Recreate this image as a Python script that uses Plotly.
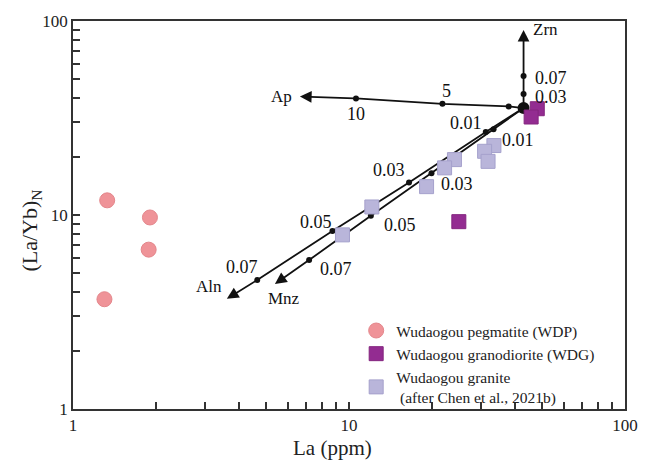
import numpy as np
import plotly.graph_objects as go

# ---- data ----
wdp_la = [1.33, 1.90, 1.88, 1.30]
wdp_ratio = [11.9, 9.71, 6.63, 3.68]

wdg_la = [48.1, 45.7, 25.0]
wdg_ratio = [35.3, 32.0, 9.24]

granite_la = [33.5, 31.0, 31.9, 24.1, 22.2, 19.1, 12.1, 9.47]
granite_ratio = [22.8, 21.3, 18.9, 19.3, 17.5, 14.0, 11.0, 7.90]

origin_la, origin_ratio = 42.9, 35.6

zrn_la = [42.9, 42.9]
zrn_ratio = [42.0, 52.0]
zrn_labels = ["0.03", "0.07"]
zrn_tip = (42.9, 90.0)

ap_la = [37.9, 21.8, 10.6]
ap_ratio = [36.3, 37.4, 39.9]
ap_labels = ["", "5", "10"]
ap_tip = (6.64, 40.8)

aln_la = [31.3, 16.5, 8.71, 4.65]
aln_ratio = [26.8, 14.7, 8.28, 4.62]
aln_labels = ["0.01", "0.03", "0.05", "0.07"]
aln_tip = (3.61, 3.70)

mnz_la = [33.4, 19.9, 12.0, 7.17]
mnz_ratio = [27.7, 16.4, 9.91, 5.86]
mnz_labels = ["0.01", "0.03", "0.05", "0.07"]
mnz_tip = (5.39, 4.41)

# label offsets (pixels) - styling
zrn_off = [(27, -3), (27, -2)]
ap_off = [(0, 0), (4, 13), (0, -16)]
aln_off = [(-20, 9), (-20, 13), (-16, 9), (-15, 13)]
mnz_off = [(24, -11), (26, -11), (29, -9), (27, -9)]

FONT = "Times New Roman, Liberation Serif, DejaVu Serif, serif"
fig = go.Figure()

vectors = [
    ("Zrn", zrn_la, zrn_ratio, zrn_labels, zrn_tip, zrn_off, (22, 0)),
    ("Ap", ap_la, ap_ratio, ap_labels, ap_tip, ap_off, (-18, 0)),
    ("Aln", aln_la, aln_ratio, aln_labels, aln_tip, aln_off, (-18, 12)),
    ("Mnz", mnz_la, mnz_ratio, mnz_labels, mnz_tip, mnz_off, (9, -15)),
]

annotations = []
for name, xs, ys, labs, tip, offs, tipoff in vectors:
    fig.add_trace(go.Scatter(
        x=[origin_la] + xs, y=[origin_ratio] + ys, mode="lines",
        line=dict(color="#111111", width=1.8), showlegend=False, hoverinfo="skip"))
    fig.add_trace(go.Scatter(
        x=xs, y=ys, mode="markers",
        marker=dict(color="#111111", size=6), showlegend=False, hoverinfo="skip"))
    annotations.append(dict(
        x=np.log10(tip[0]), y=np.log10(tip[1]),
        ax=np.log10(xs[-1]), ay=np.log10(ys[-1]),
        xref="x", yref="y", axref="x", ayref="y",
        showarrow=True, arrowhead=2, arrowsize=1.3, arrowwidth=1.8,
        arrowcolor="#111111", standoff=0, startstandoff=0, text=""))
    annotations.append(dict(
        x=np.log10(tip[0]), y=np.log10(tip[1]), xref="x", yref="y",
        text=name, showarrow=False, xshift=tipoff[0], yshift=tipoff[1],
        font=dict(family=FONT, size=17, color="#111111")))
    for xv, yv, lab, off in zip(xs, ys, labs, offs):
        if lab:
            annotations.append(dict(
                x=np.log10(xv), y=np.log10(yv), xref="x", yref="y",
                text=lab, showarrow=False, xshift=off[0], yshift=off[1],
                font=dict(family=FONT, size=18, color="#111111")))

# axis titles
annotations.append(dict(
    x=0.47, y=0, xref="paper", yref="paper", yshift=-39, yanchor="middle",
    text="La (ppm)", showarrow=False,
    font=dict(family=FONT, size=21, color="#222222")))
annotations.append(dict(
    x=0, y=0.46, xref="paper", yref="paper", xshift=-42, xanchor="center",
    text="(La/Yb)<sub>N</sub>", showarrow=False, textangle=-90,
    font=dict(family=FONT, size=22, color="#222222")))

fig.add_trace(go.Scatter(
    x=[origin_la], y=[origin_ratio], mode="markers",
    marker=dict(color="#111111", size=12), showlegend=False, hoverinfo="skip"))

fig.add_trace(go.Scatter(
    x=wdp_la, y=wdp_ratio, mode="markers", name="Wudaogou pegmatite (WDP)",
    marker=dict(symbol="circle", size=15, color="#EF9398",
                line=dict(color="#E4868B", width=1))))
fig.add_trace(go.Scatter(
    x=wdg_la, y=wdg_ratio, mode="markers", name="Wudaogou granodiorite (WDG)",
    marker=dict(symbol="square", size=14, color="#932C91",
                line=dict(color="#84257F", width=1))))
fig.add_trace(go.Scatter(
    x=granite_la, y=granite_ratio, mode="markers",
    name="Wudaogou granite<br> (after Chen et al., 2021b)",
    marker=dict(symbol="square", size=14, color="#B9B5DA",
                line=dict(color="#A5A1CC", width=1))))

axis_common = dict(
    type="log", showgrid=False, zeroline=False,
    showline=True, linecolor="#333333", linewidth=1.5, mirror=True,
    ticks="inside", ticklen=7, tickwidth=1.5, tickcolor="#333333",
    minor=dict(ticks="inside", ticklen=7, tickwidth=1.5, tickcolor="#333333",
               dtick="D1", showgrid=False),
    tickfont=dict(family=FONT, size=17, color="#222222"),
    dtick=1,
)

fig.update_layout(
    width=650, height=463,
    margin=dict(l=73, r=24, t=14, b=54),
    paper_bgcolor="white", plot_bgcolor="white",
    xaxis=dict(axis_common, range=[0, 2]),
    yaxis=dict(axis_common, range=[0, 2]),
    legend=dict(x=0.513, y=0.245, xanchor="left", yanchor="top",
                bgcolor="rgba(0,0,0,0)",
                font=dict(family=FONT, size=15.5, color="#222222"),
                itemsizing="trace", tracegroupgap=2),
    annotations=annotations,
    showlegend=True,
)

fig.write_html("out.html")
